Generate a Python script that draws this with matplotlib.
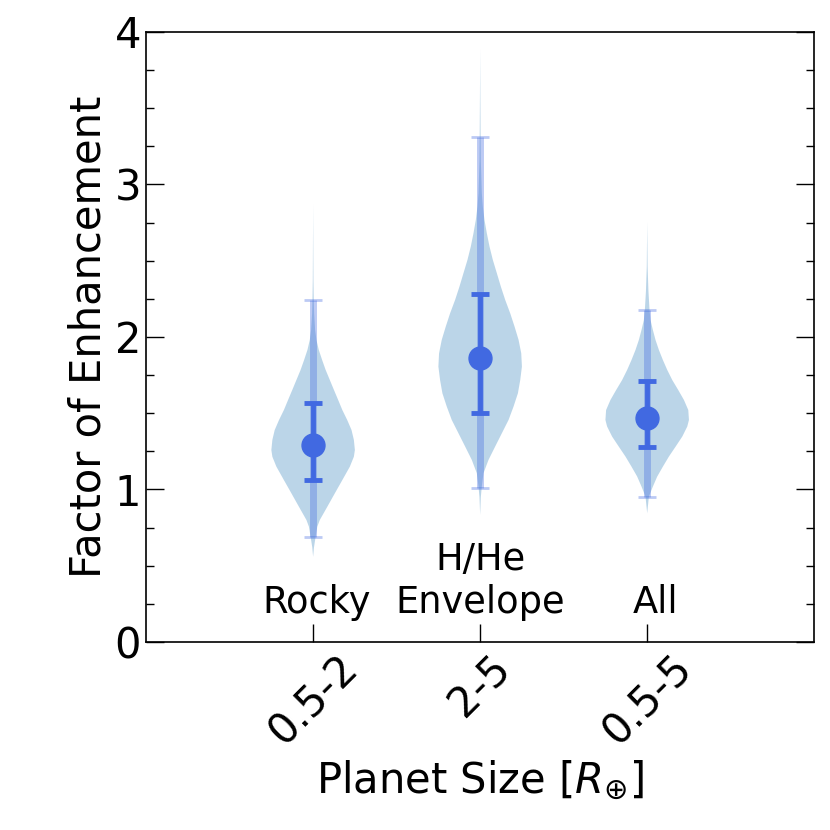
import numpy as np
import matplotlib
matplotlib.use('Agg')
import matplotlib.pyplot as plt

# size bins and labels
categories = ['0.5-2', '2-5', '0.5-5']
group_names = ['Rocky', 'H/He\nEnvelope', 'All']
positions = [1, 2, 3]
label_x = [1.02, 2.0, 3.05]

# median and 1-sigma / 2-sigma ranges of the enhancement factor
medians = np.array([1.29, 1.86, 1.47])
sig1_lo = np.array([1.06, 1.50, 1.28])
sig1_hi = np.array([1.57, 2.28, 1.71])
sig2_lo = np.array([0.69, 1.01, 0.95])
sig2_hi = np.array([2.24, 3.31, 2.18])

# violin outlines (y value, relative half width)
rocky_y = [0.559, 0.62, 0.690, 0.756, 0.800, 0.887, 0.975, 1.062, 1.150, 1.215,
           1.259, 1.325, 1.390, 1.456, 1.521, 1.587, 1.652, 1.718, 1.784, 1.849,
           1.915, 1.980, 2.046, 2.155, 2.243, 2.374, 2.592, 2.877]
rocky_w = [0.0, 0.02, 0.06, 0.1, 0.16, 0.34, 0.52, 0.70, 0.88, 0.976,
           1.0, 0.976, 0.92, 0.816, 0.70, 0.60, 0.50, 0.40, 0.30, 0.216,
           0.136, 0.08, 0.048, 0.024, 0.016, 0.008, 0.004, 0.0]

env_y = [0.833, 0.95, 1.021, 1.107, 1.194, 1.282, 1.369, 1.456, 1.544, 1.631,
         1.718, 1.806, 1.893, 1.981, 2.068, 2.155, 2.243, 2.330, 2.418, 2.505,
         2.593, 2.680, 2.767, 2.855, 2.942, 3.16, 3.357, 3.576, 3.893]
env_w = [0.0, 0.016, 0.04, 0.08, 0.2, 0.36, 0.52, 0.68, 0.80, 0.904,
         0.96, 1.0, 0.984, 0.92, 0.824, 0.72, 0.60, 0.496, 0.40, 0.304,
         0.224, 0.16, 0.104, 0.064, 0.04, 0.016, 0.01, 0.005, 0.0]

all_y = [0.844, 0.953, 1.019, 1.085, 1.150, 1.216, 1.281, 1.347, 1.413, 1.456,
         1.521, 1.587, 1.652, 1.718, 1.784, 1.849, 1.915, 1.980, 2.046, 2.111,
         2.177, 2.30, 2.46, 2.756]
all_w = [0.0, 0.04, 0.136, 0.24, 0.376, 0.52, 0.68, 0.84, 0.96, 1.0,
         0.984, 0.88, 0.744, 0.60, 0.48, 0.376, 0.28, 0.20, 0.136, 0.08,
         0.056, 0.03, 0.01, 0.0]

profiles = [(rocky_y, rocky_w), (env_y, env_w), (all_y, all_w)]
vpstats = []
for (ys, ws), m in zip(profiles, medians):
    vpstats.append({'coords': np.array(ys), 'vals': np.array(ws),
                    'mean': m, 'median': m, 'min': ys[0], 'max': ys[-1]})

fig = plt.figure(figsize=(8.3, 8.3), dpi=100)
ax = fig.add_axes([0.176, 0.2265, 0.805, 0.735])

parts = ax.violin(vpstats, positions=positions, widths=0.5,
                  showmeans=False, showextrema=False, showmedians=False)
for body in parts['bodies']:
    body.set_facecolor('C0')
    body.set_edgecolor('none')
    body.set_alpha(0.3)

ax.errorbar(positions, medians, yerr=[medians - sig2_lo, sig2_hi - medians],
            fmt='none', ecolor='royalblue', elinewidth=5, capsize=6.5,
            capthick=2, alpha=0.35)
ax.errorbar(positions, medians, yerr=[medians - sig1_lo, sig1_hi - medians],
            fmt='o', color='royalblue', ms=16.5, elinewidth=3.5, capsize=6.5,
            capthick=3.5)

for px, name in zip(label_x, group_names):
    ax.text(px, 0.14, name, ha='center', va='bottom', fontsize=26.5,
            multialignment='center')

ax.set_xlim(0, 4)
ax.set_ylim(0, 4)
ax.set_xticks(positions)
ax.set_xticklabels(categories, rotation=45)
ax.set_yticks([0, 1, 2, 3, 4])
ax.set_yticks(np.arange(0, 4.01, 0.25), minor=True)
ax.tick_params(axis='y', which='both', direction='in', right=True, labelsize=30)
ax.tick_params(axis='y', which='major', length=13, width=1)
ax.tick_params(axis='y', which='minor', length=6, width=1)
ax.tick_params(axis='x', which='major', direction='in', length=13, width=1,
               labelsize=30, top=False)
for s in ax.spines.values():
    s.set_linewidth(1.2)

ax.set_xlabel(r'Planet Size [$R_{\oplus}$]', fontsize=30)
ax.set_ylabel('Factor of Enhancement', fontsize=30)

fig.savefig('out.png', dpi=100)
